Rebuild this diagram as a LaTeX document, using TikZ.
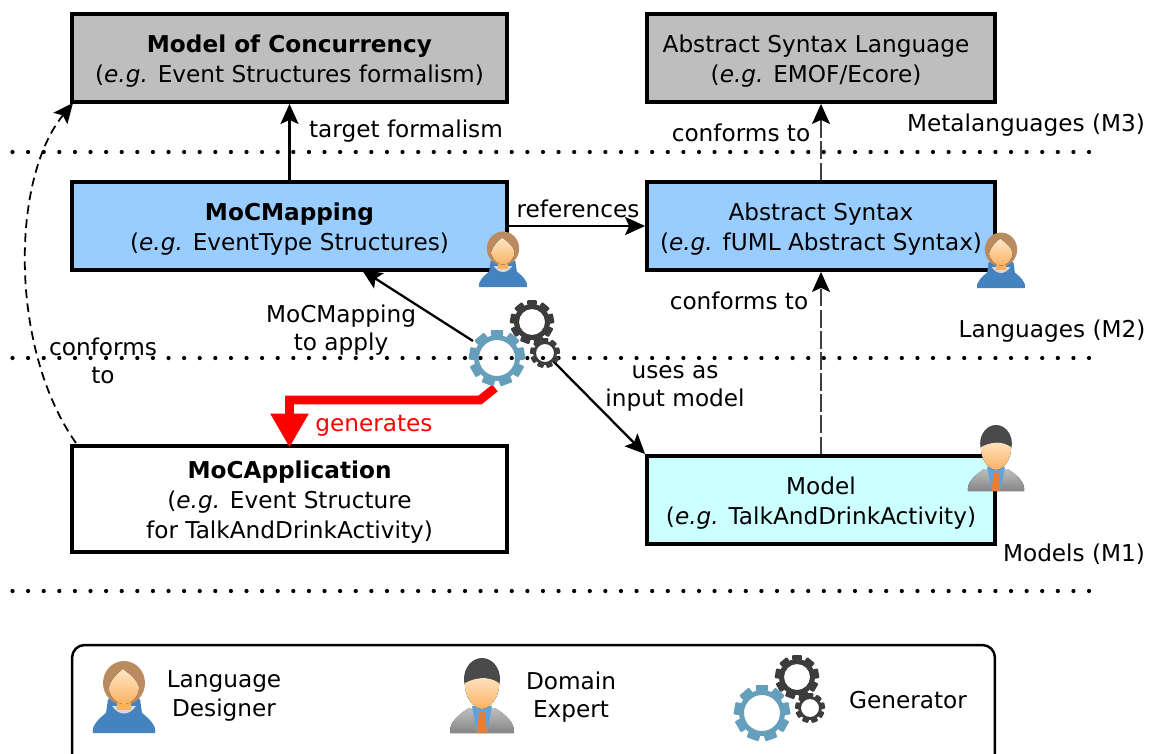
\documentclass[tikz,border=0pt]{standalone}
\usepackage{fontspec}
\setmainfont{DejaVu Sans}
\usetikzlibrary{arrows.meta}

\definecolor{boxgray}{HTML}{BEBEBE}
\definecolor{boxblue}{HTML}{99CCFF}
\definecolor{boxcyan}{HTML}{CCFFFF}
\definecolor{gearblue}{HTML}{659FBC}
\definecolor{geardark}{HTML}{3C3C3C}
\definecolor{hoodblue}{HTML}{4583C0}
\definecolor{hairbrown}{HTML}{BA8B5F}
\definecolor{hairdark}{HTML}{4A4A4A}
\definecolor{suitgray}{HTML}{A6A6A6}
\definecolor{shirtblue}{HTML}{62A2DC}
\definecolor{tieorange}{HTML}{E47F35}
\definecolor{skinlight}{HTML}{FFE6C6}
\definecolor{skindark}{HTML}{F9B262}

\newcommand{\nudge}{\hspace{.2cm}}
\newcommand{\topgap}{\rule{0pt}{13.5pt}}
\newcommand{\gearwheel}[6]{% colour, x, y, hole, body, tip
  \fill[#1, even odd rule] (#2,#3) circle (#5) (#2,#3) circle (#4);
  \foreach \a in {0,40,...,320}
    \fill[#1, shift={(#2,#3)}, rotate=\a, rounded corners=.5pt] (-0.27*#5,-#5+1) rectangle (0.27*#5,-#6);
}

\tikzset{
  box/.style={draw, line width=2.2pt, align=center, inner sep=0pt, font=\fontsize{13.2}{17}\selectfont},
  wide/.style={box, minimum width=8.7cm, minimum height=1.76cm},
  narrow/.style={box, minimum width=6.96cm, minimum height=1.76cm},
  lbl/.style={align=center, font=\fontsize{13.2}{16}\selectfont},
  plain/.style={line width=1.3pt, -{Stealth[length=.4cm,width=.36cm,inset=.08cm]}},
  conf/.style={line width=.7pt, black!75, dash pattern=on 10pt off 2pt, -{Stealth[black,length=.4cm,width=.36cm,inset=.08cm]}},
  confcurve/.style={line width=1pt, dash pattern=on 5pt off 3pt, -{Stealth[length=.4cm,width=.36cm,inset=.08cm]}},
  sep/.style={line width=2.4pt, line cap=round, dash pattern=on 0pt off 8.88pt},
  designer/.pic={
    \fill[hoodblue] (-31,0) .. controls (-33,-6) and (-26,-14) .. (-18,-20) -- (-16,-34) -- (16,-34) -- (18,-20) .. controls (26,-14) and (33,-6) .. (31,0) -- cycle;
    \fill[black!15] (-12,-27) .. controls (-5,-17) and (5,-17) .. (12,-27) -- cycle;
    \fill[hairbrown] (0,-50) ellipse (21 and 22);
    \fill[skindark] (-7,-36) rectangle (7,-23);
    \fill[top color=skinlight, bottom color=skindark] (-15,-46) .. controls (-13,-54) and (-6,-60) .. (-1,-64) .. controls (4,-60) and (13,-54) .. (15,-46) .. controls (15,-36) and (7,-29) .. (0,-29) .. controls (-7,-29) and (-15,-36) .. (-15,-46) -- cycle;
  },
  expert/.pic={
    \fill[top color=black!25, bottom color=suitgray!80!black] (-32,0) .. controls (-33,-10) and (-24,-18) .. (-13,-25) -- (13,-25) .. controls (24,-18) and (33,-10) .. (32,0) -- cycle;
    \fill[shirtblue] (-10,-27) -- (10,-27) -- (5,0) -- (-5,0) -- cycle;
    \fill[tieorange] (-3,-21) -- (3,-21) -- (5,0) -- (-5,0) -- cycle;
    \fill[hairdark] (0,-54) ellipse (18 and 21);
    \fill[top color=skinlight, bottom color=skindark] (-17,-50) .. controls (-8,-55) and (6,-58) .. (17,-50) .. controls (18,-36) and (8,-24) .. (0,-24) .. controls (-8,-24) and (-18,-36) .. (-17,-50) -- cycle;
  },
  gears/.pic={
    \gearwheel{geardark}{35}{-36}{13}{18}{22}
    \gearwheel{geardark}{48}{-5}{9}{12}{15}
    \gearwheel{gearblue}{0}{0}{18}{23}{28}
  }
}

\begin{document}
\begin{tikzpicture}[x=0.02cm, y=-0.02cm]
\useasboundingbox (0,0) rectangle (1151,753);

% layer separators
\coordinate (sepA) at (12.5,152);
\coordinate (sepAend) at (1090,152);
\coordinate (sepB) at (12.5,358);
\coordinate (sepBend) at (1090,358);
\coordinate (sepC) at (12.5,591);
\coordinate (sepCend) at (1090,591);
\draw [sep] (sepA) -- (sepAend);
\draw [sep] (sepB) -- (sepBend);
\draw [sep] (sepC) -- (sepCend);

% boxes
\node [wide, fill=boxgray] (moc) at (289.5,58) {\topgap\textbf{Model of Concurrency}\nudge\\(\textit{e.g.} Event Structures formalism)\nudge};
\node [narrow, fill=boxgray] (asl) at (821,58) {\topgap Abstract Syntax Language\nudge\nudge\\(\textit{e.g.} EMOF/Ecore)\nudge\nudge};
\node [wide, fill=boxblue] (mapping) at (289.5,226) {\topgap\textbf{MoCMapping}\nudge\\(\textit{e.g.} EventType Structures)\nudge};
\node [narrow, fill=boxblue] (syntax) at (821,226) {\topgap Abstract Syntax\nudge\\(\textit{e.g.} fUML Abstract Syntax)};
\node [wide, minimum height=2.12cm, fill=white] (application) at (289.5,499) {\topgap\textbf{MoCApplication}\nudge\\(\textit{e.g.} Event Structure\nudge\\for TalkAndDrinkActivity)};
\node [narrow, fill=boxcyan] (model) at (821,500) {\topgap Model\nudge\\(\textit{e.g.} TalkAndDrinkActivity)};
\node [draw, line width=1.4pt, rounded corners=.25cm, minimum width=18.46cm, minimum height=3cm] (legend) at (533.5,720) {};

% free ends of the connectors
\coordinate (mapIn) at (362,270);
\coordinate (genOutA) at (473,341);
\coordinate (genOutB) at (552,360);
\coordinate (genOutC) at (495,388);
\coordinate (bendA) at (480,400);
\coordinate (bendB) at (289.5,400);
\coordinate (appOut) at (76,443);
\coordinate (mocIn) at (73,103);

% connectors
\draw [plain] (mapping.north) -- (moc.south);
\draw [conf] (syntax.north) -- (asl.south);
\draw [plain] (mapping.east) -- (syntax.west);
\draw [conf] (model.north) -- (syntax.south);
\draw [plain] (genOutA) -- (mapIn);
\draw [plain] (genOutB) -- (model.north west);
\draw [confcurve] (appOut) .. controls (10,350) and (10,180) .. (mocIn);
\draw [red, line width=5pt, line join=miter, shorten >=-2pt, -{Triangle[length=.68cm,width=.72cm]}] (genOutC) -- (bendA) -- (bendB) -- (application.north);

% labels
\node [lbl] (lblTarget) at (406,131) {target formalism};
\node [lbl] (lblConfA) at (741,133) {conforms to};
\node [lbl] (lblMeta) at (1026,125) {Metalanguages (M3)};
\node [lbl] (lblRefs) at (578,209) {references};
\node [lbl] (lblConfB) at (739,301) {conforms to};
\node [lbl] (lblLang) at (1052,331) {Languages (M2)};
\node [lbl] (lblApply) at (341,330) {MoCMapping\\to apply};
\node [lbl] (lblConfC) at (103,361) {conforms\\to};
\node [lbl] (lblUses) at (675,388) {uses as\\input model};
\node [lbl, text=red] (lblGen) at (374,426) {generates};
\node [lbl] (lblModels) at (1074,554) {Models (M1)};

% people and gears
\pic [scale=.77] (designerA) at (503,287) {designer};
\pic [scale=.77] (designerB) at (1001,288) {designer};
\pic [scale=.88] (expertA) at (996,491) {expert};
\pic (genA) at (497,358) {gears};

% legend
\pic (designerC) at (124,733) {designer};
\node [lbl] (lblDesigner) at (224,696) {Language\\Designer};
\pic (expertB) at (482,733) {expert};
\node [lbl] (lblExpert) at (571,697) {Domain\\Expert};
\pic (genB) at (762,713) {gears};
\node [lbl] (lblGenerator) at (908,700) {Generator};
\end{tikzpicture}
\end{document}
